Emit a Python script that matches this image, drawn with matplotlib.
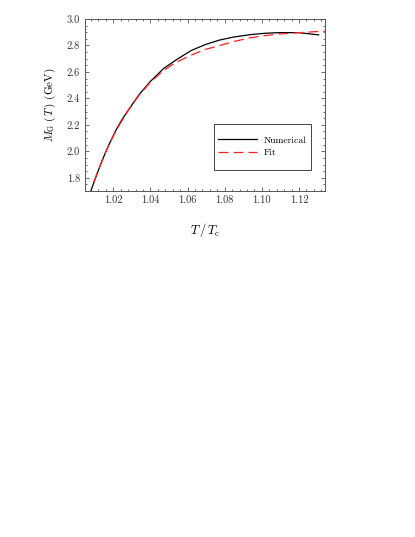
import numpy as np
import matplotlib.pyplot as plt
from matplotlib.patches import Rectangle
from matplotlib.ticker import MultipleLocator, AutoMinorLocator

plt.switch_backend('agg')
plt.rcParams['font.family'] = 'serif'
plt.rcParams['font.serif'] = ['cmr10']
plt.rcParams['mathtext.fontset'] = 'cm'
plt.rcParams['axes.formatter.use_mathtext'] = True

# curve: numerical result
t_num = [1.0077, 1.0105, 1.014, 1.0175, 1.0212, 1.0245, 1.0283, 1.034, 1.040, 1.0472,
         1.0552, 1.062, 1.0696, 1.077, 1.0849, 1.0939, 1.1015, 1.1091, 1.1199, 1.1306]
m_num = [1.69, 1.80, 1.93, 2.045, 2.152, 2.235, 2.315, 2.43, 2.528, 2.627,
         2.703, 2.762, 2.807, 2.84, 2.864, 2.882, 2.892, 2.897, 2.897, 2.88]

# fit curve
t_fit = [1.0095, 1.0125, 1.0158, 1.0212, 1.0283, 1.034, 1.040, 1.0472, 1.0535, 1.0633,
         1.0696, 1.077, 1.0849, 1.0939, 1.1015, 1.1091, 1.1199, 1.1298, 1.1342]
m_fit = [1.767, 1.875, 1.99, 2.15, 2.315, 2.425, 2.522, 2.612, 2.67, 2.735,
         2.77, 2.798, 2.83, 2.858, 2.874, 2.886, 2.897, 2.905, 2.908]

fig = plt.figure(figsize=(4.15, 5.37), dpi=100)
ax = fig.add_axes([85/415, 1-191/537, 240/415, 172/537])

ax.plot(t_num, m_num, color='black', lw=0.9, label='Numerical')
ax.plot(t_fit, m_fit, color='#ff2020', lw=0.9, dashes=(8, 4), label='Fit')

ax.set_xlim(1.0048, 1.134)
ax.set_ylim(1.7, 3.0)
ax.xaxis.set_major_locator(MultipleLocator(0.02))
ax.xaxis.set_minor_locator(AutoMinorLocator(5))
ax.yaxis.set_major_locator(MultipleLocator(0.2))
ax.yaxis.set_minor_locator(AutoMinorLocator(4))
ax.tick_params(which='both', direction='in', top=True, right=True,
               labelsize=7.5, labelcolor='#333333', color='#555555', width=0.6)
ax.tick_params(which='major', length=3)
ax.tick_params(which='minor', length=1.5)
for s in ax.spines.values():
    s.set_color('#555555')
    s.set_linewidth(0.7)

ax.xaxis.set_major_formatter(plt.FuncFormatter(lambda v, p: '%.2f' % v))
ax.yaxis.set_major_formatter(plt.FuncFormatter(lambda v, p: '%.1f' % v))

ax.set_xlabel(r'$T\,/\,T_{\rm c}$', fontsize=9, labelpad=11)
ax.set_ylabel(r'$M_{\rm G}\ (\,T\,)$ (GeV)', fontsize=8, labelpad=6)

# legend box drawn by hand: wide vertical padding, tight rows
ax.add_patch(Rectangle((0.5375, 0.122), 0.4045, 0.268, transform=ax.transAxes,
                       fill=True, facecolor='white', edgecolor='#444444', lw=0.7, zorder=4))
leg = ax.legend(loc='center left', bbox_to_anchor=(0.554, 0.259), fontsize=7,
                frameon=False, borderpad=0, borderaxespad=0, handlelength=4.0,
                handletextpad=0.7, labelspacing=0.35)
leg.set_zorder(5)

fig.savefig('out.png', dpi=100)
